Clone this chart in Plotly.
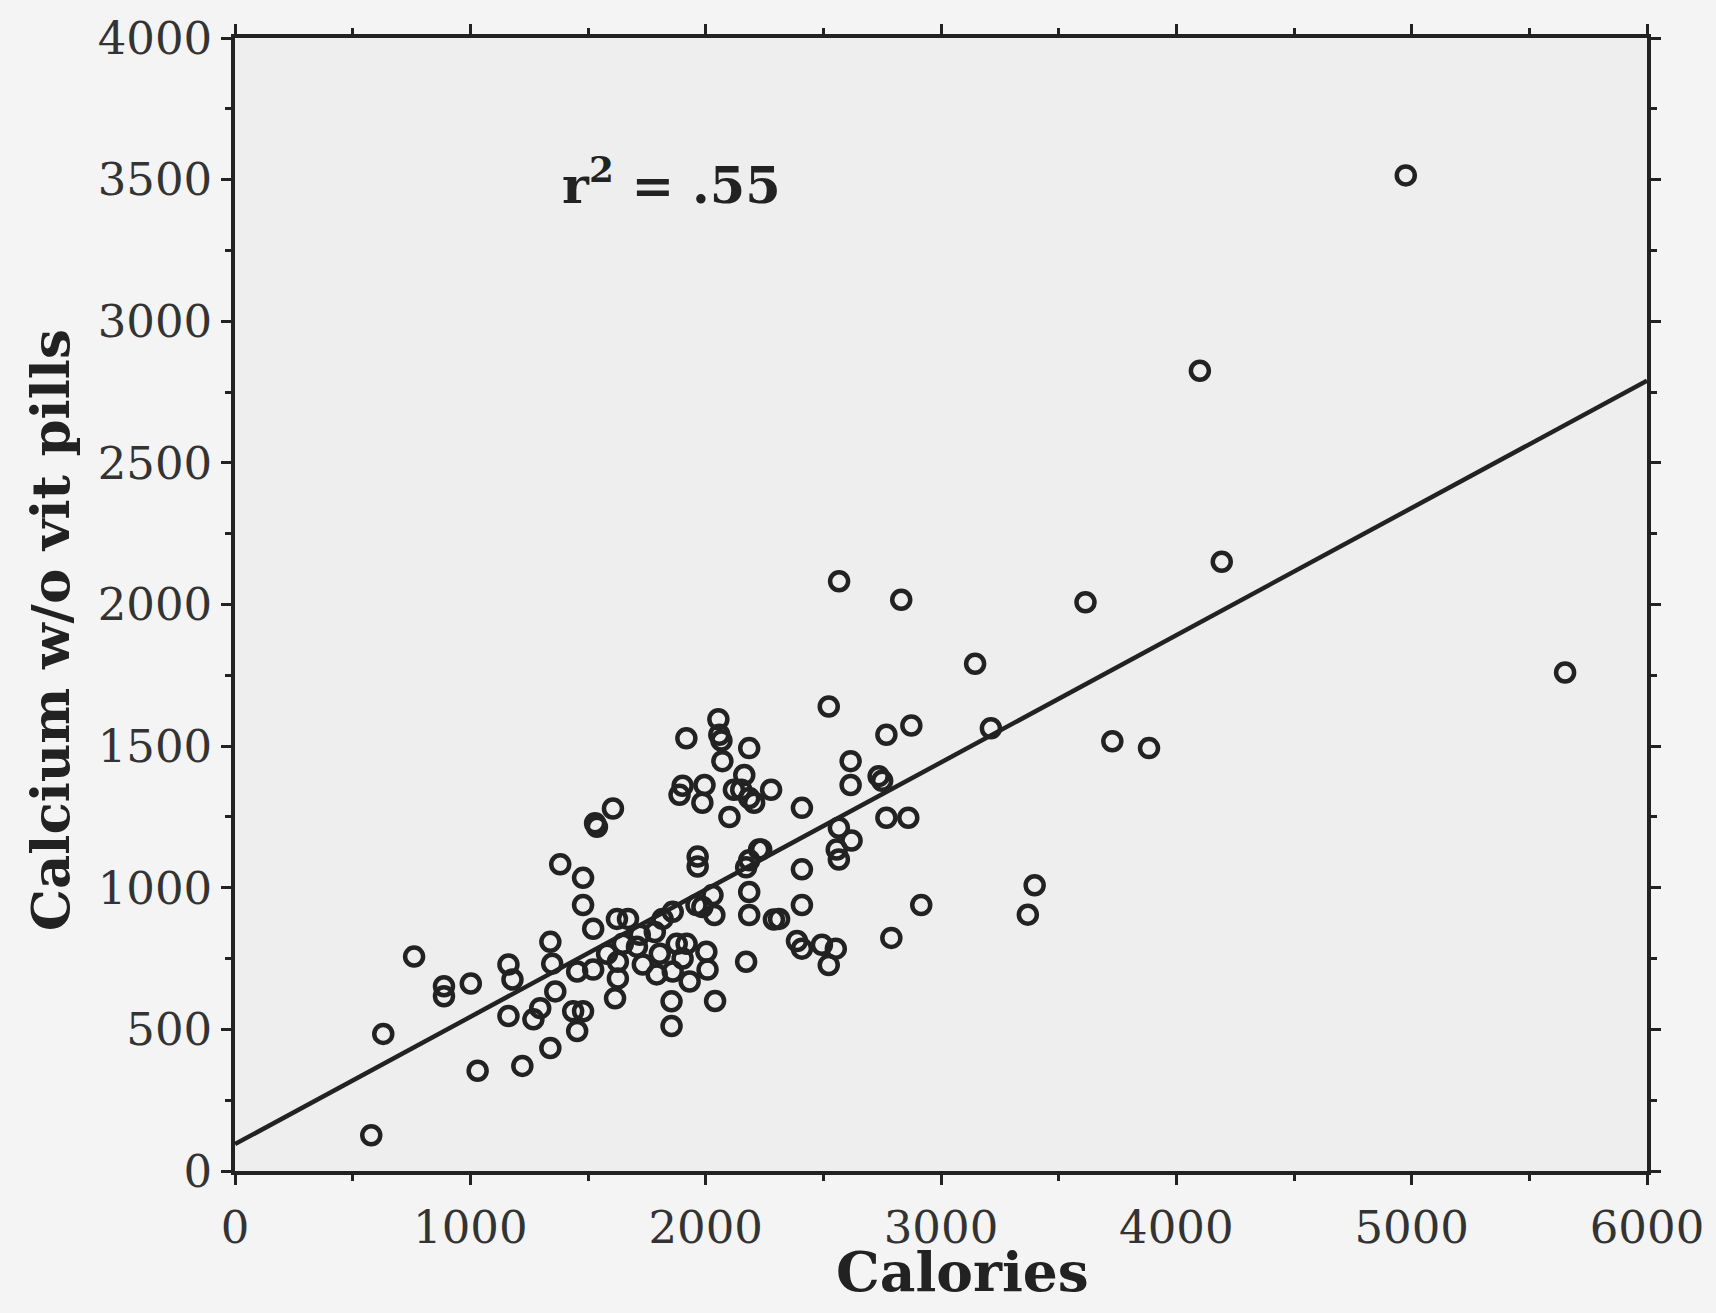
import plotly.graph_objects as go

# Scatter data (Calories, Calcium w/o vit pills)
calories = [
    4975, 4100, 4193, 2567, 2831, 3614, 3145, 5652, 3212, 3728, 3884,
    2523, 2768, 2874, 2616, 2616, 2735, 2750, 2768, 2861, 2409, 2566,
    2620, 2557, 2566, 2409, 2236, 2409, 2916, 2789, 3398, 3369, 2312,
    2290, 2409, 2388, 2494, 2553, 2523, 2185, 2185, 2172,
    2054, 2058, 2067, 2071, 2185, 1918, 2164, 1902, 1995, 1889, 1986,
    2120, 2151, 2185, 2206, 2278, 2101, 1966, 1966, 2227, 2185, 2172,
    1606, 1530, 1538, 1382, 1479,
    1479, 1522, 1340, 1348, 1361, 1454, 1522, 1581, 1623, 1670, 1648,
    1708, 1720, 1627, 1627, 1615, 1437, 1479, 1784, 1817, 1860, 1805,
    1792, 1733, 1877, 1919, 1902, 1860, 1932, 1855, 1961, 2003, 2008,
    1986, 2029, 2037, 2040, 1855, 1454, 1297, 1268, 1162,
    761, 888, 888, 1002, 1162, 1179, 1340, 1221, 1031, 630, 579,
]
calcium = [
    3515, 2825, 2151, 2082, 2017, 2008, 1791, 1760, 1563, 1517, 1493,
    1640, 1540, 1573, 1447, 1363, 1394, 1378, 1247, 1247, 1282, 1212,
    1167, 1135, 1100, 1065, 1135, 939, 939, 823, 1009, 905, 890,
    888, 785, 812, 799, 785, 727, 985, 904, 739,
    1595, 1540, 1520, 1447, 1493, 1528, 1398, 1360, 1363, 1328, 1300,
    1346, 1346, 1317, 1300, 1346, 1250, 1110, 1075, 1135, 1097, 1072,
    1280, 1228, 1215, 1083, 1035,
    939, 855, 809, 732, 634, 704, 711, 767, 890, 890, 802,
    792, 834, 739, 680, 610, 564, 564, 844, 890, 915, 767,
    694, 729, 802, 802, 750, 704, 669, 599, 939, 774, 711,
    932, 974, 904, 600, 512, 494, 575, 536, 547,
    757, 652, 617, 662, 729, 676, 434, 371, 354, 484, 126,
]

# Regression line end points
fit_x = [0, 6000]
fit_y = [95, 2790]

x_ticks = [0, 1000, 2000, 3000, 4000, 5000, 6000]
y_ticks = [0, 500, 1000, 1500, 2000, 2500, 3000, 3500, 4000]

ink = "#222222"
serif = "DejaVu Serif"

fig = go.Figure()
fig.add_trace(go.Scatter(
    x=fit_x, y=fit_y, mode="lines",
    line=dict(color=ink, width=4.5), hoverinfo="skip", showlegend=False,
))
fig.add_trace(go.Scatter(
    x=calories, y=calcium, mode="markers",
    marker=dict(symbol="circle-open", size=18, color=ink,
                line=dict(width=4.5, color=ink)),
    showlegend=False,
))

axis_common = dict(
    showgrid=False, zeroline=False, showline=True, linecolor=ink,
    linewidth=3.5, mirror="ticks", ticks="outside", tickcolor=ink,
    tickwidth=3, ticklen=10, ticklabeloverflow="allow",
    tickfont=dict(family=serif, size=45, color="#333333"),
)

fig.update_xaxes(
    range=[0, 6000], tickvals=x_ticks,
    ticktext=[str(v) for v in x_ticks],
    ticklabelstandoff=4,
    minor=dict(dtick=500, ticks="outside", ticklen=6, tickwidth=2.5, tickcolor=ink),
    **axis_common,
)
fig.update_yaxes(
    range=[0, 4000], tickvals=y_ticks,
    ticktext=[str(v) for v in y_ticks],
    minor=dict(dtick=250, ticks="outside", ticklen=6, tickwidth=2.5, tickcolor=ink),
    **axis_common,
)

fig.add_annotation(
    x=1382, y=3495, xref="x", yref="y", xanchor="left", yanchor="middle",
    text="r<sup>2</sup> = .55", showarrow=False,
    font=dict(family=serif, size=51, color=ink, weight="bold"),
)
fig.add_annotation(
    x=0.5155, y=-0.0885, xref="paper", yref="paper",
    xanchor="center", yanchor="middle", text="Calories", showarrow=False,
    borderpad=0,
    font=dict(family=serif, size=55, color=ink, weight="bold"),
)
fig.add_annotation(
    x=-0.1314, y=0.4777, xref="paper", yref="paper",
    xanchor="center", yanchor="middle", text="Calcium w/o vit pills",
    textangle=-90, showarrow=False,
    font=dict(family=serif, size=53, color=ink, weight="bold"),
)

fig.update_layout(
    width=1716, height=1313,
    margin=dict(l=235, r=60, t=22, b=142),
    plot_bgcolor="#eeeeee", paper_bgcolor="#f4f4f4",
)

fig.write_html(
    "out.html",
    config={"displayModeBar": False},
    post_script="document.body.style.margin='0';"
                "document.body.style.background='#f4f4f4';",
)
